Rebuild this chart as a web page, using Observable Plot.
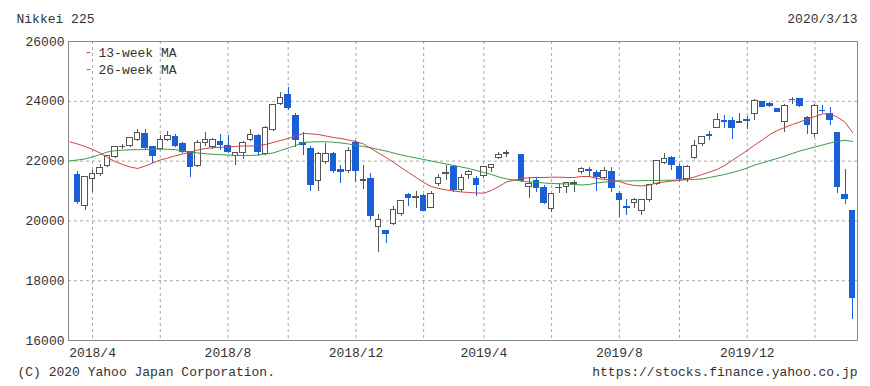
<!DOCTYPE html>
<html><head><meta charset="utf-8">
<script src="https://cdn.jsdelivr.net/npm/d3@7"></script>
<script src="https://cdn.jsdelivr.net/npm/@observablehq/plot@0.6"></script>
<style>
html,body{margin:0;padding:0;background:#fff;}
#chart{width:870px;height:386px;}
</style></head><body><div id="chart"></div>
<script>
// ---- data ----
const weeks = [
"2018-03-19","2018-03-26","2018-04-02","2018-04-09","2018-04-16","2018-04-23","2018-04-30","2018-05-07","2018-05-14","2018-05-21",
"2018-05-28","2018-06-04","2018-06-11","2018-06-18","2018-06-25","2018-07-02","2018-07-09","2018-07-16","2018-07-23","2018-07-30",
"2018-08-06","2018-08-13","2018-08-20","2018-08-27","2018-09-03","2018-09-10","2018-09-17","2018-09-24","2018-10-01","2018-10-08",
"2018-10-15","2018-10-22","2018-10-29","2018-11-05","2018-11-12","2018-11-19","2018-11-26","2018-12-03","2018-12-10","2018-12-17",
"2018-12-24","2018-12-31","2019-01-07","2019-01-14","2019-01-21","2019-01-28","2019-02-04","2019-02-11","2019-02-18","2019-02-25",
"2019-03-04","2019-03-11","2019-03-18","2019-03-25","2019-04-01","2019-04-08","2019-04-15","2019-04-22","2019-05-06","2019-05-13",
"2019-05-20","2019-05-27","2019-06-03","2019-06-10","2019-06-17","2019-06-24","2019-07-01","2019-07-08","2019-07-15","2019-07-22",
"2019-07-29","2019-08-05","2019-08-12","2019-08-19","2019-08-26","2019-09-02","2019-09-09","2019-09-16","2019-09-23","2019-09-30",
"2019-10-07","2019-10-14","2019-10-21","2019-10-28","2019-11-04","2019-11-11","2019-11-18","2019-11-25","2019-12-02","2019-12-09",
"2019-12-16","2019-12-23","2019-12-30","2020-01-06","2020-01-13","2020-01-20","2020-01-27","2020-02-03","2020-02-10","2020-02-17",
"2020-02-24","2020-03-02","2020-03-09"];

const open = [
21540,20500,21400,21580,21830,22150,22470,22490,22720,22900,
22480,22420,22720,22800,22560,22300,21830,22590,22470,22640,
22520,22160,22270,22720,22850,22250,23050,23900,24200,23500,
22600,22400,21330,21980,22230,21700,21670,22600,21350,21400,
19785,19655,19900,20220,20850,20780,20840,20440,21250,21580,
21800,21020,21550,21400,21500,21780,22100,22250,22200,21150,
21350,21100,20400,21100,21130,21230,21650,21700,21600,21420,
21650,20900,20480,20600,20330,20700,21250,21950,22100,21790,
21400,22100,22560,22880,23120,23340,23350,23290,23380,23590,
23960,23900,23750,23320,24030,24080,23450,22900,23690,23570,
22950,20880,20340];

const high = [
21650,21500,21700,21900,22200,22500,22550,22800,23050,23050,
22500,22850,23000,22900,22620,22320,22700,22950,22750,22900,
22850,22300,22650,23060,22900,23150,23900,24290,24448,23600,
22960,22500,22300,22583,22280,21850,22450,22698,21850,21580,
20200,19692,20470,20670,20900,20980,20870,21000,21550,21860,
21860,21540,21700,21500,21830,21900,22300,22360,22200,21450,
21450,21200,20900,21250,21300,21350,21800,21800,21700,21800,
21790,21000,20720,20760,20730,21200,22020,22250,22150,21900,
21850,22700,22830,23000,23590,23540,23450,23600,23500,24070,
24000,23950,23770,23900,24115,24100,23500,23900,23870,23800,
22960,21720,20350];

const low = [
20560,20350,20950,21500,21800,22100,22400,22450,22650,22350,
21930,22400,22650,22450,22250,21460,21780,22500,22400,22350,
22250,21850,22070,22650,22170,22200,23000,23850,23700,22460,
22200,20971,21000,21900,21580,21240,21600,21300,21060,20000,
18949,19241,19850,20150,20480,20400,20300,20400,21150,21350,
20950,20950,21400,20800,21430,21630,22050,22130,21280,20750,
20950,20550,20289,20900,20900,20950,21550,21450,21000,21400,
20950,20110,20180,20400,20170,20620,21200,21900,21700,21280,
21300,22050,22500,22700,23100,23080,22720,23250,23050,23360,
23800,23800,23650,22951,23900,23780,22900,22800,23600,23190,
20916,20560,16690];

const close = [
20617,21454,21567,21778,22162,22467,22472,22758,22930,22450,
22171,22694,22851,22516,22304,21788,22597,22697,22712,22525,
22298,22270,22601,22865,22307,23094,23869,24120,23783,22694,
22532,21184,22243,22250,21680,21646,22351,21679,21374,20166,
20014,19561,20359,20666,20773,20788,20333,20900,21425,21602,
21025,21450,21627,21205,21807,21870,22200,22258,21344,21250,
21117,20601,20884,21116,21258,21275,21746,21685,21466,21658,
21087,20684,20418,20710,20704,21199,21988,22079,21878,21410,
21798,22492,22800,22850,23391,23303,23113,23293,23354,24023,
23816,23837,23656,23850,24041,23827,23205,23827,23687,23386,
21142,20749,17431];

// moving averages, one value per week starting one week before the first candle
const maFirstWeek = "2018-03-12";
const ma13 = [
22640,22572,22489,22389,22271,22121,21987,21887,21803,21753,21837,
21937,22037,22104,22178,22238,22305,22372,22422,22445,22462,
22472,22489,22505,22505,22522,22556,22623,22689,22756,22840,
22924,22913,22890,22840,22790,22756,22706,22656,22572,22422,
22271,22121,21954,21787,21619,21452,21285,21151,21084,21034,
21001,20967,20951,20934,20927,21017,21151,21302,21419,21442,
21452,21452,21462,21462,21452,21452,21486,21486,21419,21385,
21369,21318,21235,21185,21168,21201,21268,21302,21335,21352,
21402,21469,21552,21636,21720,21853,22021,22188,22355,22539,
22706,22890,23024,23124,23224,23308,23408,23492,23576,23580,
23470,23300,22950];
const ma26 = [
22011,22037,22071,22138,22221,22305,22348,22365,22378,22382,22389,
22395,22398,22395,22382,22338,22305,22271,22245,22228,22215,
22201,22188,22188,22188,22205,22238,22271,22355,22439,22522,
22623,22639,22646,22646,22633,22606,22572,22522,22489,22445,
22389,22338,22271,22205,22154,22104,22054,22004,21954,21904,
21853,21803,21753,21686,21619,21552,21469,21402,21335,21302,
21285,21268,21252,21242,21235,21218,21201,21218,21268,21302,
21318,21335,21335,21342,21345,21352,21352,21358,21362,21369,
21375,21385,21402,21452,21502,21552,21619,21686,21770,21870,
21937,22021,22087,22171,22255,22338,22405,22472,22539,22606,
22656,22696,22656];

const yTicks = [16000,18000,20000,22000,24000,26000];
const yGrid = [18000,20000,22000,24000];
const gridWeeks = ["2018-04-02","2018-06-04","2018-08-06","2018-10-01","2018-12-03","2019-02-04",
                   "2019-04-01","2019-06-03","2019-08-05","2019-09-30","2019-12-02","2020-02-03"];
const labelWeeks = ["2018-04-02","2018-08-06","2018-12-03","2019-04-01","2019-08-05","2019-12-02"];
const labelTexts = ["2018/4","2018/8","2018/12","2019/4","2019/8","2019/12"];
const titleText = "Nikkei 225";
const dateText = "2020/3/13";
const legendLabels = ["13-week MA","26-week MA"];
const copyrightText = "(C) 2020 Yahoo Japan Corporation.";
const urlText = "https://stocks.finance.yahoo.co.jp";

// ---- build ----
const parse = s => new Date(s + "T00:00:00Z");
const candles = weeks.map((w, i) => ({date: parse(w), open: open[i], high: high[i], low: low[i], close: close[i]}));
const maWeeks = [maFirstWeek].concat(weeks);
const maData13 = maWeeks.map((w, i) => ({date: parse(w), v: ma13[i]}));
const maData26 = maWeeks.map((w, i) => ({date: parse(w), v: ma26[i]}));
const labelMap = new Map(labelWeeks.map((w, i) => [+parse(w), labelTexts[i]]));

const UP = "#555555", DOWN = "#1a5ed8", RED = "#cc4444", GREEN = "#3a9a48";
const GRID = "#a8a8a8";
const colorOf = d => d.close >= d.open ? UP : DOWN;
const fillOf = d => d.close >= d.open ? "#ffffff" : DOWN;

const chart = Plot.plot({
  width: 870, height: 386,
  marginLeft: 68, marginRight: 13, marginTop: 41, marginBottom: 46,
  style: {fontFamily: "'Liberation Mono','DejaVu Sans Mono',monospace", fontSize: "13px", color: "#333", background: "#fff"},
  x: {type: "utc", domain: [new Date("2018-03-10T15:00Z"), new Date("2020-03-13T13:30Z")],
      ticks: labelWeeks.map(parse), tickFormat: d => labelMap.get(+d), tickSize: 0, tickPadding: 7, label: null},
  y: {domain: [16000, 26000], ticks: yTicks, tickFormat: d => String(d), tickSize: 0, tickPadding: 4, label: null},
  marks: [
    Plot.ruleY(yGrid, {stroke: GRID, strokeDasharray: "3,3"}),
    Plot.ruleX(gridWeeks.map(parse), {stroke: GRID, strokeDasharray: "3,3"}),
    Plot.ruleX(candles, {x: "date", y1: "low", y2: "high", stroke: colorOf, shapeRendering: "crispEdges"}),
    Plot.rect(candles, {
      x1: d => d3.utcHour.offset(d.date, -62), x2: d => d3.utcHour.offset(d.date, 62),
      y1: "open", y2: "close", fill: fillOf, stroke: colorOf, strokeWidth: 1, shapeRendering: "crispEdges"}),
    Plot.line(maData26, {x: "date", y: "v", stroke: GREEN, strokeWidth: 1, clip: true}),
    Plot.line(maData13, {x: "date", y: "v", stroke: RED, strokeWidth: 1, clip: true}),
    Plot.frame({stroke: "#888"}),
    Plot.text([titleText], {text: d => d, frameAnchor: "top-left", dx: -52, dy: -23, textAnchor: "start", lineAnchor: "middle", fill: "#333"}),
    Plot.text([dateText], {text: d => d, frameAnchor: "top-right", dx: 0, dy: -23, textAnchor: "end", lineAnchor: "middle", fill: "#333"}),
    Plot.text(["-"], {text: d => d, frameAnchor: "top-left", dx: 20, dy: 10, textAnchor: "middle", lineAnchor: "middle", fill: RED}),
    Plot.text(["-"], {text: d => d, frameAnchor: "top-left", dx: 20, dy: 27, textAnchor: "middle", lineAnchor: "middle", fill: GREEN}),
    Plot.text([legendLabels[0]], {text: d => d, frameAnchor: "top-left", dx: 30, dy: 11, textAnchor: "start", lineAnchor: "middle", fill: "#333"}),
    Plot.text([legendLabels[1]], {text: d => d, frameAnchor: "top-left", dx: 30, dy: 28, textAnchor: "start", lineAnchor: "middle", fill: "#333"}),
    Plot.text([copyrightText], {text: d => d, frameAnchor: "bottom-left", dx: -51, dy: 31, textAnchor: "start", lineAnchor: "middle", fill: "#333"}),
    Plot.text([urlText], {text: d => d, frameAnchor: "bottom-right", dx: 0, dy: 31, textAnchor: "end", lineAnchor: "middle", fill: "#333"})
  ]
});
document.getElementById("chart").append(chart);
</script>
</body></html>
